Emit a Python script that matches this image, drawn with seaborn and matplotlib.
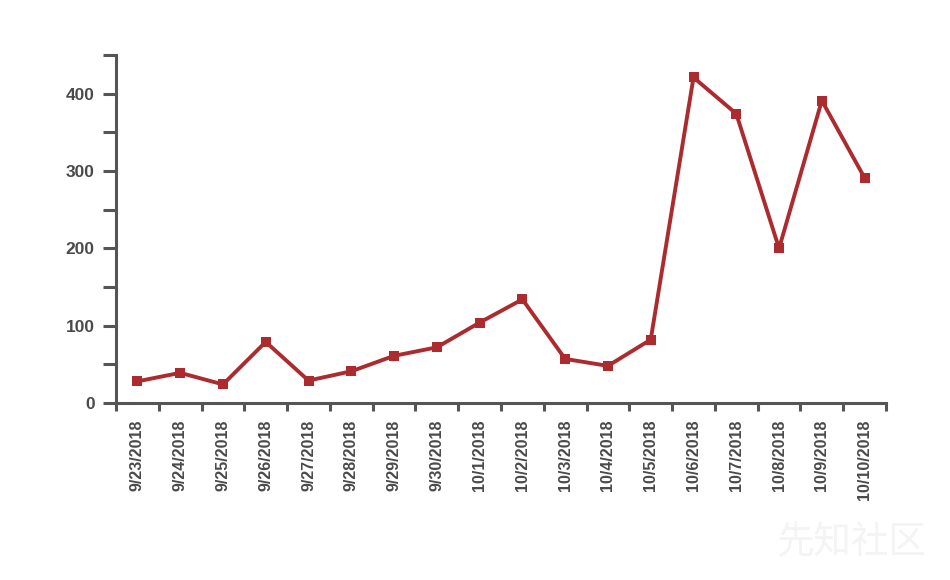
import numpy as np
import pandas as pd
import seaborn as sns
import matplotlib.pyplot as plt
from matplotlib.ticker import FixedLocator, MultipleLocator

# Daily counts
dates = ["9/23/2018", "9/24/2018", "9/25/2018", "9/26/2018", "9/27/2018",
         "9/28/2018", "9/29/2018", "9/30/2018", "10/1/2018", "10/2/2018",
         "10/3/2018", "10/4/2018", "10/5/2018", "10/6/2018", "10/7/2018",
         "10/8/2018", "10/9/2018", "10/10/2018"]
counts = [28, 39, 24, 79, 29, 41, 61, 72, 104, 134,
          57, 48, 82, 421, 374, 200, 391, 291]

y_major = [0, 100, 200, 300, 400]

LINE = "#ab2b2e"
AXIS = "#555555"
TEXT = "#4a4a4a"

sns.set_theme(style="white")
plt.rcParams['font.family'] = ['Liberation Sans', 'DejaVu Sans']

df = pd.DataFrame({"date": dates, "count": counts})
df["pos"] = np.arange(len(dates))

fig = plt.figure(figsize=(9.5, 5.8), dpi=100)
ax = fig.add_axes([116 / 950, 1 - 403 / 580, 770 / 950, 348 / 580])

sns.lineplot(data=df, x="pos", y="count", ax=ax, color=LINE, linewidth=2.8,
             marker="s", markersize=7, markeredgewidth=0, markerfacecolor=LINE)

n = len(dates)
ax.set_xlim(-0.5, n - 0.5)
ax.set_ylim(0, 450)

# labels at band centres, ticks at band edges
ax.xaxis.set_major_locator(FixedLocator(df["pos"].tolist()))
ax.set_xticklabels(dates, rotation=90, fontsize=11.5, fontweight="bold", color=TEXT)
ax.xaxis.set_minor_locator(FixedLocator(list(np.arange(n + 1) - 0.5)))
ax.tick_params(axis="x", which="major", length=0, pad=12)
ax.tick_params(axis="x", which="minor", length=5.5, width=2.2, color=AXIS, direction="out")

ax.yaxis.set_major_locator(FixedLocator(y_major))
ax.yaxis.set_minor_locator(MultipleLocator(50))
ax.set_yticklabels([str(v) for v in y_major], fontsize=12.5, fontweight="bold", color=TEXT)
ax.tick_params(axis="y", which="both", length=9.4, width=2.2, color=AXIS, direction="out", pad=6)
ax.tick_params(axis="both", which="both", bottom=True, left=True)

ax.set_xlabel("")
ax.set_ylabel("")
for side in ["top", "right"]:
    ax.spines[side].set_visible(False)
for side in ["left", "bottom"]:
    ax.spines[side].set_color(AXIS)
    ax.spines[side].set_linewidth(2.2)
ax.grid(False)

# faint site watermark
fig.text(0.975, 0.03, "先知社区", ha="right", va="bottom", fontsize=27, color="#f4f4f4",
         family=["Noto Sans CJK SC", "DejaVu Sans"])

fig.savefig("out.png", dpi=100, facecolor="white")
